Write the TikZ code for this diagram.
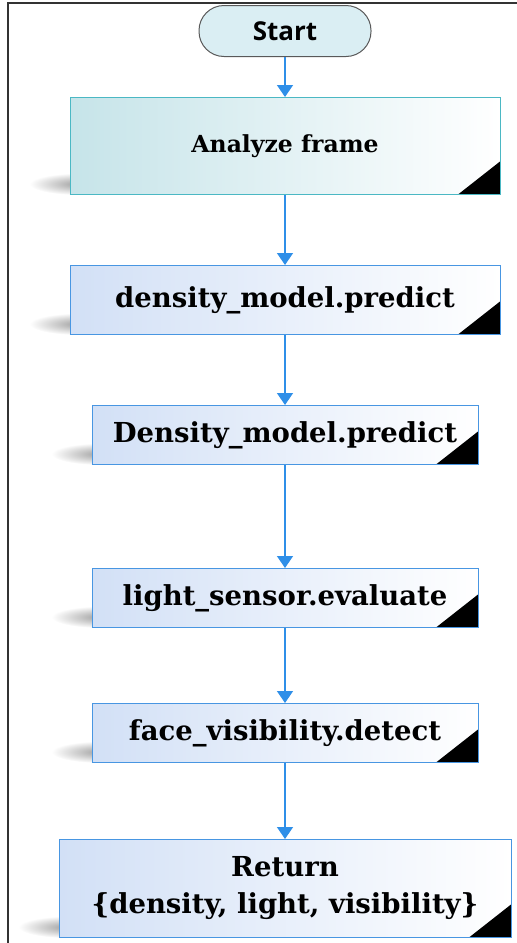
\documentclass[tikz,border=0pt]{standalone}
\usepackage{fontspec}
\setmainfont{DejaVu Serif}
\newfontfamily\startfont{Open Sans}
\usetikzlibrary{arrows.meta,positioning,calc,backgrounds}
\definecolor{flowblue}{RGB}{47,143,232}
\definecolor{boxblue}{RGB}{210,224,246}
\definecolor{boxedge}{RGB}{72,150,226}
\definecolor{tealfill}{RGB}{198,228,233}
\definecolor{tealedge}{RGB}{75,184,196}
\definecolor{startfill}{RGB}{218,238,243}

\tikzset{
  startbox/.style={draw=black!65, line width=1pt, fill=startfill, rounded corners=25pt,
    minimum width=172pt, minimum height=51pt, font=\startfont\bfseries\fontsize{26}{30}\selectfont},
  procbox/.style={draw=boxedge, line width=1pt, left color=boxblue, right color=white,
    minimum height=59pt, inner sep=0pt, align=center,
    font=\bfseries\fontsize{27.5}{37}\selectfont,
    path picture={\fill[black] (path picture bounding box.south east) -- ++(-42pt,0pt) -- ++(42pt,33pt) -- cycle;}},
  tealbox/.style={procbox, draw=tealedge, left color=tealfill, right color=white},
  flow/.style={-{Triangle[width=16pt,length=12pt]}, flowblue, line width=1.5pt},
}

\begin{document}
\begin{tikzpicture}
\useasboundingbox (0pt,0pt) rectangle (517pt,-943pt);
\draw[line width=1.5pt, black!80] (8pt,-943pt) -- (8pt,-3pt) -- (517pt,-3pt);

\node[startbox] (start) at (285pt,-31pt) {Start};
\node[tealbox, minimum width=430pt, minimum height=97pt, below=40pt of start,
  font=\bfseries\fontsize{23.5}{28}\selectfont] (analyze) {Analyze frame};
\node[procbox, minimum width=430pt, minimum height=69pt, below=70pt of analyze] (dmodel) {density\_model.predict};
\node[procbox, minimum width=386pt, below=70pt of dmodel] (Dmodel) {Density\_model.predict};
\node[procbox, minimum width=386pt, below=103pt of Dmodel] (light) {light\_sensor.evaluate};
\node[procbox, minimum width=386pt, below=75pt of light] (face) {face\_visibility.detect};
\node[procbox, minimum width=452pt, minimum height=98pt, below=76pt of face] (ret) {Return\\\{density, light, visibility\}};

% soft shadows on the left
\begin{scope}[on background layer]
\foreach \n in {analyze,dmodel,Dmodel,light,face,ret}
  \shade[inner color=black!38, outer color=white] ($(\n.south west)+(10pt,11pt)$) ellipse [x radius=50pt, y radius=11pt];
\end{scope}

\foreach \a/\b in {start/analyze,analyze/dmodel,dmodel/Dmodel,Dmodel/light,light/face,face/ret}
  \draw[flow] (\a) -- (\b);
\end{tikzpicture}
\end{document}
